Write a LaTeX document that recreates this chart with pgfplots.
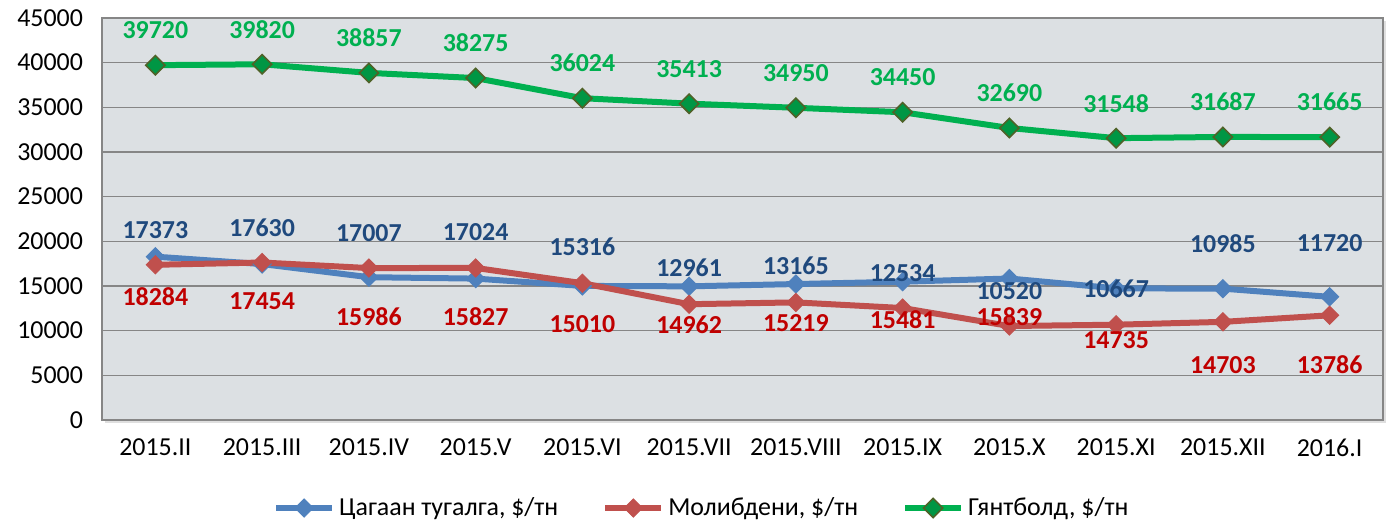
\documentclass[border=0pt]{standalone}
\usepackage{fontspec}
\setmainfont{Carlito}
\usepackage{pgfplots}
\pgfplotsset{compat=1.18}
\usetikzlibrary{shadows}
\definecolor{cblue}{HTML}{4F81BD}
\definecolor{cred}{HTML}{C0504D}
\definecolor{cgreen}{HTML}{00B050}
\definecolor{lblue}{HTML}{1F497D}
\definecolor{lred}{HTML}{C00000}
\definecolor{gedge}{HTML}{4F6228}
\definecolor{gridc}{HTML}{868686}
\definecolor{bgc}{HTML}{DCE0E3}
\begin{document}
\begin{tikzpicture}
\path[use as bounding box] (-51bp,-52.5bp) rectangle (644bp,210bp);
\begin{axis}[
  at={(0,0)}, anchor=south west,
  scale only axis, width=640.5bp, height=201bp,
  xmin=-0.5, xmax=11.5, ymin=0, ymax=45000,
  xtick={0,...,11},
  xticklabels={2015.II,2015.III,2015.IV,2015.V,2015.VI,2015.VII,2015.VIII,2015.IX,2015.X,2015.XI,2015.XII,2016.I},
  ytick={0,5000,...,45000},
  scaled y ticks=false,
  yticklabel style={/pgf/number format/1000 sep={}, /pgf/number format/assume math mode=true, xshift=-6bp},
  xticklabel style={yshift=-6bp},
  ticklabel style={font=\fontsize{13}{15}\selectfont},
  major tick length=0pt,
  axis line style={draw=gridc, line width=1bp},
  ymajorgrids, grid style={draw=gridc, line width=0.8bp},
  axis background/.style={fill=bgc, drop shadow={shadow xshift=1.5bp, shadow yshift=-1.5bp, opacity=0.25}},
  clip=false,
  legend style={at={(axis description cs:0.469,-0.219)}, anchor=center, draw=none, fill=none,
    legend columns=3, font=\fontsize{13}{15}\selectfont,
    /tikz/every even column/.append style={column sep=20bp}},
  legend image code/.code={\draw[mark repeat=2,mark phase=2] plot coordinates {(0bp,0bp) (14bp,0bp) (28bp,0bp)};},
]
\addplot[cblue, line width=3bp, mark=square*, mark size=3.2bp, mark options={rotate=45, solid, line width=0.5bp, fill=cblue}]
  coordinates {(0,18284) (1,17454) (2,15986) (3,15827) (4,15010) (5,14962) (6,15219) (7,15481) (8,15839) (9,14735) (10,14703) (11,13786)};
\addlegendentry{Цагаан тугалга, \$/тн}
\addplot[cred, line width=3bp, mark=square*, mark size=3.2bp, mark options={rotate=45, solid, line width=0.5bp, fill=cred}]
  coordinates {(0,17373) (1,17630) (2,17007) (3,17024) (4,15316) (5,12961) (6,13165) (7,12534) (8,10520) (9,10667) (10,10985) (11,11720)};
\addlegendentry{Молибдени, \$/тн}
\addplot[cgreen, line width=3bp, mark=square*, mark size=3.4bp, mark options={rotate=45, solid, line width=0.8bp, draw=gedge, fill=cgreen!85!black},
  nodes near coords, point meta=explicit symbolic,
  every node near coord/.style={anchor=center, yshift=17.5bp, text=cgreen, font=\bfseries\fontsize{13}{15}\selectfont}]
  coordinates {(0,39720)[39720] (1,39820)[39820] (2,38857)[38857] (3,38275)[38275] (4,36024)[36024] (5,35413)[35413] (6,34950)[34950] (7,34450)[34450] (8,32690)[32690] (9,31548)[31548] (10,31687)[31687] (11,31665)[31665]};
\addlegendentry{Гянтболд, \$/тн}
% data labels as shown (blue-coloured labels)
\addplot[draw=none, forget plot, nodes near coords, point meta=explicit symbolic,
  every node near coord/.style={anchor=center, text=lblue, font=\bfseries\fontsize{13}{15}\selectfont}]
  coordinates {(0,21269)[17373] (1,21493)[17630] (2,20933)[17007] (3,21045)[17024] (4,19366)[15316] (5,17015)[12961] (6,17239)[13165] (7,16456)[12534] (8,14441)[10520] (9,14665)[10667] (10,19702)[10985] (11,19814)[11720]};
% red-coloured labels
\addplot[draw=none, forget plot, nodes near coords, point meta=explicit symbolic,
  every node near coord/.style={anchor=center, text=lred, font=\bfseries\fontsize{13}{15}\selectfont}]
  coordinates {(0,13769)[18284] (1,13321)[17454] (2,11530)[15986] (3,11530)[15827] (4,10747)[15010] (5,10635)[14962] (6,10859)[15219] (7,11194)[15481] (8,11530)[15839] (9,8956)[14735] (10,6157)[14703] (11,6157)[13786]};
\end{axis}
\end{tikzpicture}
\end{document}
